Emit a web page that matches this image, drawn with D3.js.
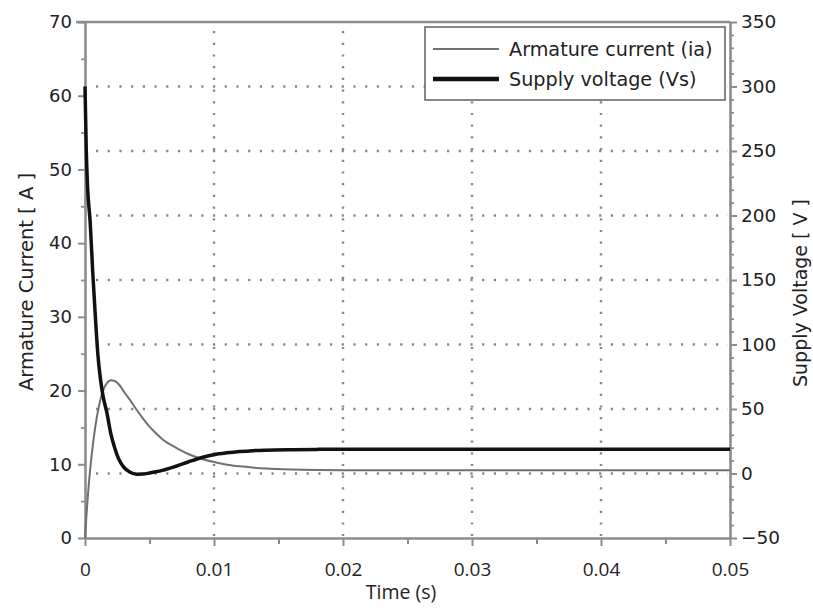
<!DOCTYPE html>
<html>
<head>
<meta charset="utf-8">
<script src="https://cdn.jsdelivr.net/npm/d3@7/dist/d3.min.js"></script>
<style>
  html, body { margin: 0; padding: 0; background: #fff; }
  svg { display: block; }
</style>
</head>
<body>
<svg id="chart" width="813" height="614"></svg>
<script>
// ---------- data ----------
const time = [0, 0.0001, 0.0002, 0.0004, 0.0006, 0.0008, 0.001, 0.0012, 0.0014, 0.0017, 0.002, 0.0023, 0.0026, 0.003, 0.0035, 0.004, 0.0045, 0.005, 0.0055, 0.006, 0.007, 0.008, 0.009, 0.01, 0.011, 0.012, 0.013, 0.014, 0.016, 0.018, 0.02, 0.025, 0.03, 0.04, 0.05];
const armatureCurrent = [0, 2.7, 5.2, 9.3, 12.5, 15.1, 17.2, 18.8, 20.0, 21.0, 21.4, 21.3, 20.9, 19.9, 18.7, 17.4, 16.2, 15.1, 14.2, 13.4, 12.3, 11.4, 10.75, 10.3, 9.95, 9.72, 9.55, 9.42, 9.28, 9.22, 9.2, 9.2, 9.2, 9.2, 9.2];
const supplyVoltage = [300, 250, 222, 195, 156, 122, 92, 73, 60, 47, 31, 20, 11.5, 5, 1, -0.5, -0.4, 0.4, 1.3, 2.4, 5.4, 8.9, 12.2, 14.6, 16.0, 17.0, 17.7, 18.1, 18.5, 18.7, 18.8, 18.8, 18.8, 18.8, 18.8];
const xTicks = [0, 0.01, 0.02, 0.03, 0.04, 0.05];
const xTickLabels = ["0", "0.01", "0.02", "0.03", "0.04", "0.05"];
const leftTicks = [0, 10, 20, 30, 40, 50, 60, 70];
const rightTicks = [-50, 0, 50, 100, 150, 200, 250, 300, 350];
const seriesNames = ["Armature current (ia)", "Supply voltage (Vs)"];

// ---------- layout ----------
const svg = d3.select("#chart");
const L = 85, R = 730, T = 22, B = 538;
const x = d3.scaleLinear().domain([0, 0.05]).range([L, R]);
const yL = d3.scaleLinear().domain([0, 70]).range([B, T]);
const yR = d3.scaleLinear().domain([-50, 350]).range([B, T]);

const axisColor = "#8c8c8c";
const gridColor = "#888";
const textColor = "#222";

// gridlines
const grid = svg.append("g");
grid.selectAll(".hg").data(rightTicks.filter(v => v > -50 && v < 350)).join("line")
  .attr("x1", L + 3).attr("x2", R - 2)
  .attr("y1", d => yR(d)).attr("y2", d => yR(d))
  .attr("stroke", gridColor).attr("stroke-width", 2.4)
  .attr("stroke-dasharray", "2.2,9.5").attr("stroke-dashoffset", -8);
grid.selectAll(".vg").data(xTicks.filter(v => v > 0 && v < 0.05)).join("line")
  .attr("x1", d => x(d)).attr("x2", d => x(d))
  .attr("y1", T + 3).attr("y2", B - 2)
  .attr("stroke", gridColor).attr("stroke-width", 2.4)
  .attr("stroke-dasharray", "2.2,9.5").attr("stroke-dashoffset", -6);

function styleAxis(g) {
  g.select(".domain").attr("stroke", axisColor).attr("stroke-width", 2.6);
  g.selectAll(".tick line").attr("stroke", axisColor).attr("stroke-width", 2);
  g.selectAll(".tick text").attr("fill", textColor);
}

// left axis
const gL = svg.append("g").attr("transform", `translate(${L},0)`)
  .call(d3.axisLeft(yL).tickValues(leftTicks).tickSize(7).tickSizeOuter(0).tickPadding(6));
gL.attr("font-family", "DejaVu Sans").attr("font-size", 18);
styleAxis(gL);
const gLm = svg.append("g").attr("transform", `translate(${L},0)`)
  .call(d3.axisLeft(yL).tickValues(d3.range(5, 70, 10)).tickSize(4).tickFormat(""));
gLm.select(".domain").remove();
gLm.selectAll("line").attr("stroke", axisColor).attr("stroke-width", 1.8);

// right axis
const gR = svg.append("g").attr("transform", `translate(${R},0)`)
  .call(d3.axisRight(yR).tickValues(rightTicks).tickSize(7).tickSizeOuter(0).tickPadding(4));
gR.attr("font-family", "DejaVu Sans").attr("font-size", 18.5);
styleAxis(gR);
const gRm = svg.append("g").attr("transform", `translate(${R},0)`)
  .call(d3.axisRight(yR).tickValues(d3.range(-40, 350, 10).filter(v => v % 50 !== 0)).tickSize(4).tickFormat(""));
gRm.select(".domain").remove();
gRm.selectAll("line").attr("stroke", axisColor).attr("stroke-width", 1.8);

// bottom axis
const gB = svg.append("g").attr("transform", `translate(0,${B})`)
  .call(d3.axisBottom(x).tickValues(xTicks).tickSize(8).tickSizeOuter(0).tickPadding(17)
    .tickFormat((d, i) => xTickLabels[i]));
gB.attr("font-family", "Open Sans").attr("font-size", 19);
styleAxis(gB);
const gBm = svg.append("g").attr("transform", `translate(0,${B})`)
  .call(d3.axisBottom(x).tickValues([0.005, 0.015, 0.025, 0.035, 0.045]).tickSize(6).tickFormat(""));
gBm.select(".domain").remove();
gBm.selectAll("line").attr("stroke", axisColor).attr("stroke-width", 2);

// top border
svg.append("line").attr("x1", L - 9).attr("x2", R).attr("y1", T).attr("y2", T)
  .attr("stroke", axisColor).attr("stroke-width", 2.6);

// series lines
const lineI = d3.line().x((d, i) => x(time[i])).y(d => yL(d)).curve(d3.curveMonotoneX);
const lineV = d3.line().x((d, i) => x(time[i])).y(d => yR(d)).curve(d3.curveMonotoneX);
svg.append("path").datum(armatureCurrent).attr("d", lineI)
  .attr("fill", "none").attr("stroke", "#707070").attr("stroke-width", 2);
svg.append("path").datum(supplyVoltage).attr("d", lineV)
  .attr("fill", "none").attr("stroke", "#111").attr("stroke-width", 3.5);

// legend
const lg = svg.append("g");
lg.append("rect").attr("x", 425).attr("y", 27).attr("width", 300).attr("height", 73)
  .attr("fill", "#fff").attr("stroke", "#6a6a6a").attr("stroke-width", 1.6);
const legendRows = [
  { name: seriesNames[0], color: "#707070", w: 2, y: 49 },
  { name: seriesNames[1], color: "#111", w: 4.5, y: 79 }
];
legendRows.forEach(r => {
  lg.append("line").attr("x1", 433).attr("x2", 499).attr("y1", r.y).attr("y2", r.y)
    .attr("stroke", r.color).attr("stroke-width", r.w);
  lg.append("text").attr("x", 509).attr("y", r.y).attr("dy", "0.35em")
    .attr("font-family", "DejaVu Sans").attr("font-size", 19.2).attr("fill", textColor)
    .text(r.name);
});

// axis titles
svg.append("text").attr("x", 401).attr("y", 599).attr("text-anchor", "middle")
  .attr("font-family", "Open Sans").attr("font-size", 19.5).attr("fill", textColor)
  .text("Time (s)");
svg.append("text").attr("transform", "translate(33,282) rotate(-90)").attr("text-anchor", "middle")
  .attr("font-family", "DejaVu Sans").attr("font-size", 19.5).attr("fill", textColor)
  .text("Armature Current  [ A ]");
svg.append("text").attr("transform", "translate(807,293) rotate(-90)").attr("text-anchor", "middle")
  .attr("font-family", "DejaVu Sans").attr("font-size", 19).attr("fill", textColor)
  .text("Supply Voltage  [ V ]");
</script>
</body>
</html>
